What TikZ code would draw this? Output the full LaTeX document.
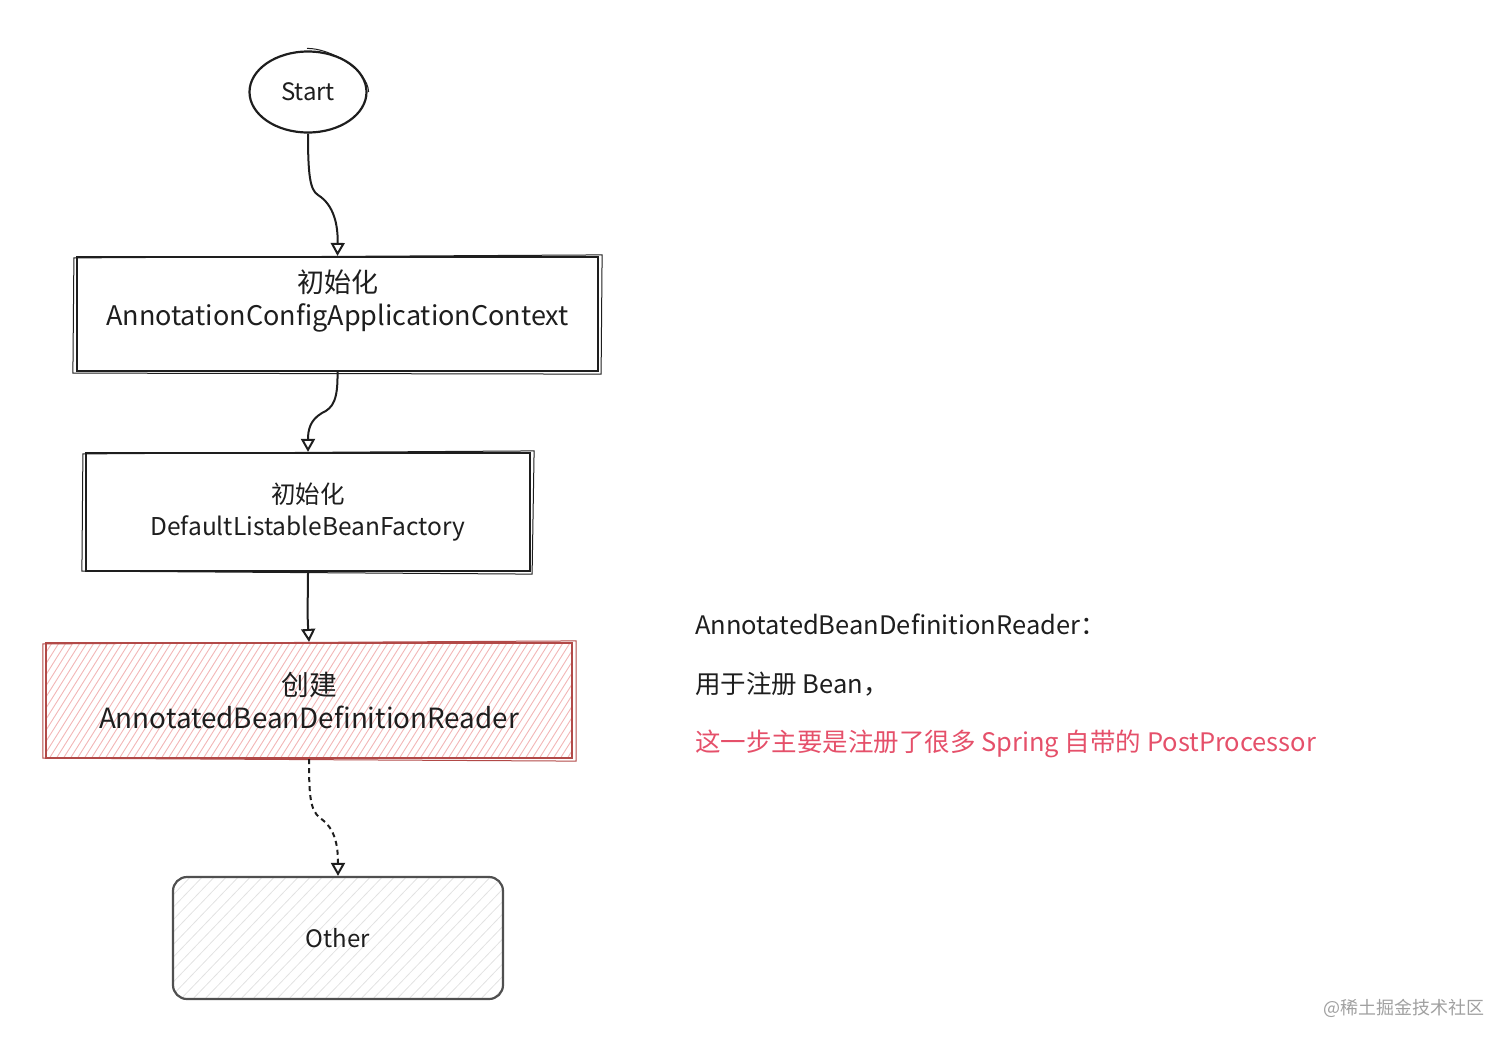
\documentclass[tikz,border=0pt]{standalone}
\usepackage{fontspec}
\setmainfont{Noto Sans CJK SC}
\usetikzlibrary{arrows.meta,shapes.geometric}
\definecolor{ink}{HTML}{1E1E1E}
\definecolor{redink}{HTML}{B24A48}
\definecolor{redhatch}{HTML}{F2B6B6}
\definecolor{redtext}{HTML}{E5506A}
\definecolor{grayink}{HTML}{505050}
\definecolor{grayhatch}{HTML}{E2E2E2}
\definecolor{wm}{HTML}{A0A0A0}
\begin{document}
\begin{tikzpicture}[x=1pt,y=-1pt,
  box/.style={draw=ink, line width=2.2pt, inner sep=0pt, align=center, text=ink},
  conn/.style={draw=ink, line width=2pt, -{Triangle[open,length=13pt,width=14pt]}},
  sketch/.style={draw=ink, line width=1pt},
  note/.style={anchor=west, inner sep=0pt, font=\fontsize{25.5}{30}\selectfont},
]
\useasboundingbox (0,0) rectangle (1512,1045);

% Start
\node[ellipse, draw=ink, line width=2.2pt, minimum width=117pt, minimum height=81pt,
      inner sep=0pt, text=ink, font=\fontsize{24}{28}\selectfont] (start) at (308,92) {Start};
\draw[sketch] ([shift={(-1,-2)}]start.north) .. controls (330,48) and (368,70) .. ([shift={(1,0)}]start.east);

% box 1
\node[box, minimum width=521pt, minimum height=114pt, text depth=32pt,
      font=\fontsize{27}{33}\selectfont] (b1) at (337.5,314)
      {初始化\\AnnotationConfigApplicationContext};
\draw[sketch] ([shift={(-2,2)}]b1.north west) -- ([shift={(3,-1)}]b1.north east)
              -- ([shift={(2,2)}]b1.south east) -- ([shift={(-3,1)}]b1.south west) -- cycle;

% box 2
\node[box, minimum width=444pt, minimum height=118pt,
      font=\fontsize{24.5}{32}\selectfont] (b2) at (308,512)
      {初始化\\DefaultListableBeanFactory};
\draw[sketch] ([shift={(-2,2)}]b2.north west) -- ([shift={(3,-1)}]b2.north east)
              -- ([shift={(1,2)}]b2.south east) -- ([shift={(-3,-1)}]b2.south west) -- cycle;

% box 3 (red, hatched)
\node[box, draw=redink, minimum width=526pt, minimum height=115pt,
      font=\fontsize{27.8}{33}\selectfont,
      path picture={
        \foreach \i in {0,7,...,640}
          \draw[redhatch, line width=0.9pt]
            ([xshift=\i pt-90pt, yshift=-4pt]path picture bounding box.south west) -- ++(85,-135);
      }] (b3) at (309,700.5)
      {创建\\AnnotatedBeanDefinitionReader};
\draw[sketch, draw=redink] ([shift={(-2,2)}]b3.north west) -- ([shift={(3,-1)}]b3.north east)
              -- ([shift={(3,2)}]b3.south east) -- ([shift={(-2,-1)}]b3.south west) -- cycle;

% box 4 (Other)
\node[box, draw=grayink, rounded corners=14pt, minimum width=330pt, minimum height=122pt,
      font=\fontsize{24}{28}\selectfont,
      path picture={
        \foreach \i in {0,12,...,520}
          \draw[grayhatch, line width=0.8pt]
            ([xshift=\i pt-140pt, yshift=-4pt]path picture bounding box.south west) -- ++(130,-135);
      }] (b4) at (338,938) {Other};

% connectors
\draw[conn] (start.south) .. controls (308,175) and (310,190) .. (318,195)
            .. controls (334,205) and (338,225) .. (b1.north);
\draw[conn] (b1.south) .. controls (338,400) and (333,408) .. (322,413)
            .. controls (310,420) and (308,430) .. (b2.north);
\draw[conn] (b2.south) .. controls (308,600) and (307,610) .. (b3.north);
\draw[conn, dash pattern=on 5pt off 4pt] (b3.south) .. controls (309,795) and (310,810) .. (320,818)
            .. controls (335,828) and (338,845) .. (b4.north);

% notes
\node[note, text=ink] (n1) at (695,624) {AnnotatedBeanDefinitionReader：};
\node[note, text=ink] (n2) at (695,684) {用于注册 Bean，};
\node[note, text=redtext] (n3) at (695,744) {这一步主要是注册了很多 Spring 自带的 PostProcessor};

% watermark
\node[anchor=east, inner sep=0pt, text=wm, font=\fontsize{18}{20}\selectfont] (wm) at (1485,1008) {@稀土掘金技术社区};
\end{tikzpicture}
\end{document}
